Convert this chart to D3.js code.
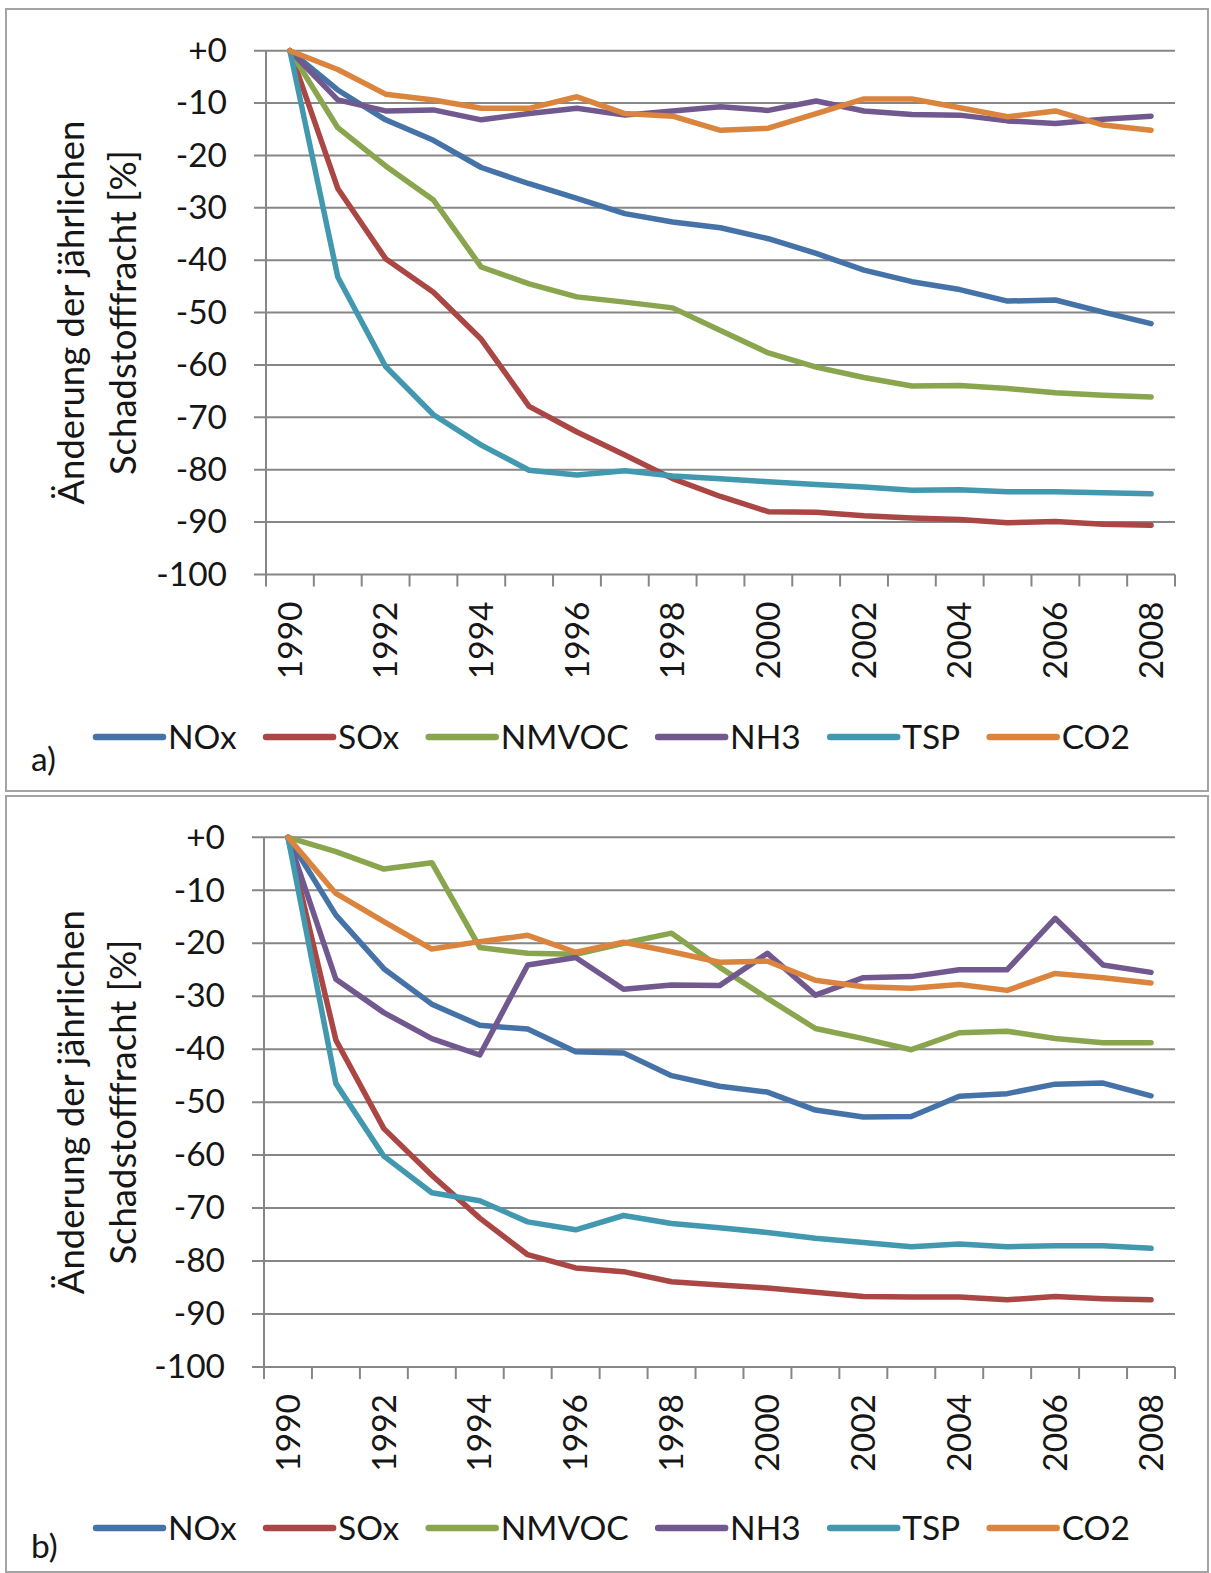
<!DOCTYPE html>
<html>
<head>
<meta charset="utf-8">
<script src="https://cdn.jsdelivr.net/npm/d3@7"></script>
<style>
  body { margin: 0; background: #fff; }
  text { font-family: Lato, "Open Sans", sans-serif; fill: #161616; }
</style>
</head>
<body>
<div id="chart"></div>
<script>
// years on the x axis, labels only on the even ones
var years = d3.range(1990, 2009);
var yTicks = [0, -10, -20, -30, -40, -50, -60, -70, -80, -90, -100];

var seriesNames = ["NOx", "SOx", "NMVOC", "NH3", "TSP", "CO2"];
var seriesColors = ["#4572A7", "#AA4643", "#89A54E", "#71588F", "#4198AF", "#DB843D"];

// panel a) values in % change vs 1990
var noxA   = [0, -7.5, -13.2, -17.1, -22.3, -25.4, -28.2, -31.1, -32.7, -33.8, -35.9, -38.7, -41.9, -44.1, -45.6, -47.8, -47.6, -49.9, -52.1];
var soxA   = [0, -26.3, -39.7, -46.1, -55.1, -67.9, -72.8, -77.2, -81.7, -85.1, -88.0, -88.1, -88.8, -89.2, -89.5, -90.1, -89.9, -90.4, -90.6];
var nmvocA = [0, -14.7, -22.0, -28.5, -41.3, -44.5, -47.0, -48.0, -49.1, -53.4, -57.7, -60.4, -62.4, -64.0, -63.9, -64.5, -65.3, -65.8, -66.1];
var nh3A   = [0, -9.4, -11.5, -11.3, -13.2, -12.0, -11.0, -12.3, -11.5, -10.7, -11.4, -9.6, -11.5, -12.2, -12.3, -13.4, -13.9, -13.1, -12.5];
var tspA   = [0, -43.2, -60.3, -69.5, -75.3, -80.1, -81.0, -80.2, -81.2, -81.7, -82.3, -82.8, -83.3, -83.9, -83.8, -84.2, -84.2, -84.4, -84.6];
var co2A   = [0, -3.6, -8.3, -9.4, -11.0, -11.0, -8.8, -12.0, -12.5, -15.2, -14.8, -12.0, -9.2, -9.2, -10.9, -12.6, -11.5, -14.2, -15.2];

// panel b)
var noxB   = [0, -14.7, -24.8, -31.5, -35.5, -36.2, -40.5, -40.7, -45.0, -47.0, -48.1, -51.5, -52.8, -52.7, -48.9, -48.4, -46.6, -46.4, -48.8];
var soxB   = [0, -38.3, -55.0, -63.8, -71.9, -78.8, -81.3, -82.0, -83.9, -84.5, -85.1, -85.9, -86.7, -86.8, -86.8, -87.3, -86.7, -87.1, -87.3];
var nmvocB = [0, -2.7, -6.0, -4.8, -20.8, -21.9, -22.1, -20.0, -18.1, -24.5, -30.4, -36.1, -38.0, -40.1, -36.9, -36.6, -38.0, -38.8, -38.8];
var nh3B   = [0, -26.8, -33.1, -38.0, -41.1, -24.1, -22.7, -28.7, -27.9, -28.0, -21.9, -29.8, -26.5, -26.3, -25.0, -25.0, -15.3, -24.1, -25.5];
var tspB   = [0, -46.5, -60.2, -67.1, -68.6, -72.6, -74.1, -71.4, -72.9, -73.7, -74.6, -75.7, -76.5, -77.3, -76.8, -77.3, -77.1, -77.1, -77.6];
var co2B   = [0, -10.6, -15.9, -21.1, -19.7, -18.5, -21.7, -19.8, -21.6, -23.6, -23.4, -27.0, -28.2, -28.5, -27.8, -28.9, -25.7, -26.5, -27.5];

var width = 1211, height = 1573;
var gridColor = "#868686";

var svg = d3.select("#chart").append("svg")
    .attr("width", width)
    .attr("height", height);

function drawPanel(p) {
  var g = svg.append("g");

  // panel frame
  g.append("rect")
    .attr("x", 6).attr("y", p.top)
    .attr("width", 1202).attr("height", p.bottom - p.top)
    .attr("fill", "none").attr("stroke", "#a3a3a3").attr("stroke-width", 2);

  var x = d3.scaleBand().domain(years).range([p.left, 1175]).padding(0);
  var y = d3.scaleLinear().domain([0, -100]).range([p.y0, p.y100]);
  var cx = function (yr) { return x(yr) + x.bandwidth() / 2; };

  // horizontal gridlines (incl. left tick stubs)
  g.selectAll(".grid")
    .data(yTicks)
    .enter().append("line")
    .attr("x1", p.left - 12).attr("x2", 1175)
    .attr("y1", function (d) { return y(d); })
    .attr("y2", function (d) { return y(d); })
    .attr("stroke", gridColor).attr("stroke-width", 2);

  // vertical axis line
  g.append("line")
    .attr("x1", p.left).attr("x2", p.left)
    .attr("y1", y(0)).attr("y2", y(-100) + 12)
    .attr("stroke", gridColor).attr("stroke-width", 2);

  // x ticks on category boundaries
  var bounds = years.map(function (yr) { return x(yr); }).concat([1175]);
  g.selectAll(".xtick")
    .data(bounds.slice(1))
    .enter().append("line")
    .attr("x1", function (d) { return d; }).attr("x2", function (d) { return d; })
    .attr("y1", y(-100)).attr("y2", y(-100) + 12)
    .attr("stroke", gridColor).attr("stroke-width", 2);

  // y tick labels
  var yAxis = d3.axisLeft(y)
    .tickValues(yTicks)
    .tickSize(0)
    .tickPadding(39)
    .tickFormat(function (d) { return d === 0 ? "+0" : String(d); });
  var ya = g.append("g")
    .attr("transform", "translate(" + p.left + ",0)")
    .call(yAxis);
  ya.select(".domain").remove();
  ya.selectAll("text")
    .attr("font-size", 33.5)
    .attr("font-family", "Lato, sans-serif")
    .attr("fill", "#161616");

  // x tick labels, rotated
  g.selectAll(".xlab")
    .data(years.filter(function (yr) { return yr % 2 === 0; }))
    .enter().append("text")
    .attr("transform", function (d) {
      return "translate(" + cx(d) + "," + (y(-100) + 27) + ")rotate(-90)";
    })
    .attr("dy", "0.35em")
    .attr("text-anchor", "end")
    .attr("font-size", 33.5)
    .text(function (d) { return d; });

  // axis title, two lines
  var midY = (p.y0 + p.y100) / 2;
  var titleLines = ["Änderung der jährlichen", "Schadstofffracht [%]"];
  var titleX = [71, 123];
  titleLines.forEach(function (t, i) {
    g.append("text")
      .attr("transform", "translate(" + titleX[i] + "," + midY + ")rotate(-90)")
      .attr("dy", "0.35em")
      .attr("text-anchor", "middle")
      .attr("font-size", 36.5)
      .text(t);
  });

  // series lines
  var line = d3.line()
    .x(function (d, i) { return cx(years[i]); })
    .y(function (d) { return y(d); });

  p.series.forEach(function (vals, i) {
    g.append("path")
      .attr("d", line(vals))
      .attr("fill", "none")
      .attr("stroke", seriesColors[i])
      .attr("stroke-width", 5.5)
      .attr("stroke-linejoin", "round")
      .attr("stroke-linecap", "round");
  });

  // legend
  var lx = 96;
  seriesNames.forEach(function (name, i) {
    g.append("line")
      .attr("x1", lx).attr("x2", lx + 67)
      .attr("y1", p.legendY).attr("y2", p.legendY)
      .attr("stroke", seriesColors[i])
      .attr("stroke-width", 6.5)
      .attr("stroke-linecap", "round");
    var t = g.append("text")
      .attr("x", lx + 72)
      .attr("y", p.legendY)
      .attr("dy", "0.36em")
      .attr("font-size", 33.5)
      .text(name);
    lx = lx + 72 + t.node().getComputedTextLength() + 29.5;
  });

  // panel letter
  g.append("text")
    .attr("x", 31).attr("y", p.letterY)
    .attr("font-size", 33.5)
    .text(p.letter);
}

drawPanel({
  top: 9, bottom: 791,
  left: 266, y0: 50.7, y100: 574.5,
  legendY: 737, letterY: 771, letter: "a)",
  series: [noxA, soxA, nmvocA, nh3A, tspA, co2A]
});

drawPanel({
  top: 796, bottom: 1572,
  left: 264, y0: 837.3, y100: 1367,
  legendY: 1528, letterY: 1558, letter: "b)",
  series: [noxB, soxB, nmvocB, nh3B, tspB, co2B]
});
</script>
</body>
</html>
